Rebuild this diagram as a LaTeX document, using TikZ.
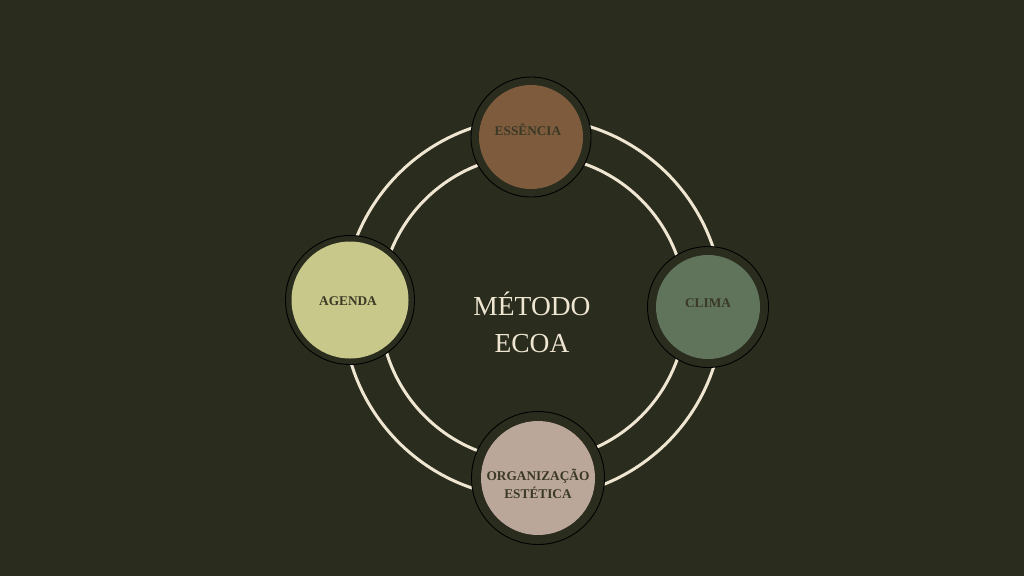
\documentclass[tikz,border=0pt]{standalone}
\usepackage{fontspec}
\setmainfont{Liberation Serif}

\definecolor{bg}{HTML}{2A2C1E}
\definecolor{cream}{HTML}{EFE6D2}
\definecolor{ink}{HTML}{3A3926}
\definecolor{essbrown}{HTML}{7E5B3C}
\definecolor{agdgreen}{HTML}{C8C88A}
\definecolor{climagreen}{HTML}{5F745A}
\definecolor{orgrose}{HTML}{BBA69A}

\begin{document}
\begin{tikzpicture}[x=1pt,y=-1pt,
  ring/.style={draw=cream,line width=3pt},
  halo/.style={circle,draw=black,line width=0.9pt,fill=bg,inner sep=0pt},
  disc/.style={circle,inner sep=0pt},
  tag/.style={font=\bfseries\fontsize{13.3}{15}\selectfont,text=ink,align=center,inner sep=0pt}]
  \fill[bg] (0,0) rectangle (1024,576);
  \useasboundingbox (0,0) rectangle (1024,576);

  \coordinate (c) at (533,308);
  \draw[ring] (c) circle[radius=190pt];
  \draw[ring] (c) circle[radius=153pt];

  \node[halo,minimum size=120pt] (essH) at (531,137) {};
  \node[disc,fill=essbrown,minimum size=104pt] (ess) at (531,137) {};
  \node[halo,minimum size=129pt] (agdH) at (350,300) {};
  \node[disc,fill=agdgreen,minimum size=117pt] (agd) at (350,300) {};
  \node[halo,minimum size=121pt] (climaH) at (708,307) {};
  \node[disc,fill=climagreen,minimum size=104pt] (clima) at (708,307) {};
  \node[halo,minimum size=133pt] (orgH) at (538,478) {};
  \node[disc,fill=orgrose,minimum size=114pt] (org) at (538,478) {};

  \node[tag] (essT) at (528,130) {ESSÊNCIA};
  \node[tag] (agdT) at (348,301) {AGENDA};
  \node[tag] (climaT) at (708,303) {CLIMA};
  \node[tag] (orgT) at (538,484) {ORGANIZAÇÃO\\[3pt]ESTÉTICA};

  \node[font=\fontsize{27.5}{37}\selectfont,text=cream,align=center,inner sep=0pt] (metodo) at (532,322) {MÉTODO\\ECOA};
\end{tikzpicture}
\end{document}
